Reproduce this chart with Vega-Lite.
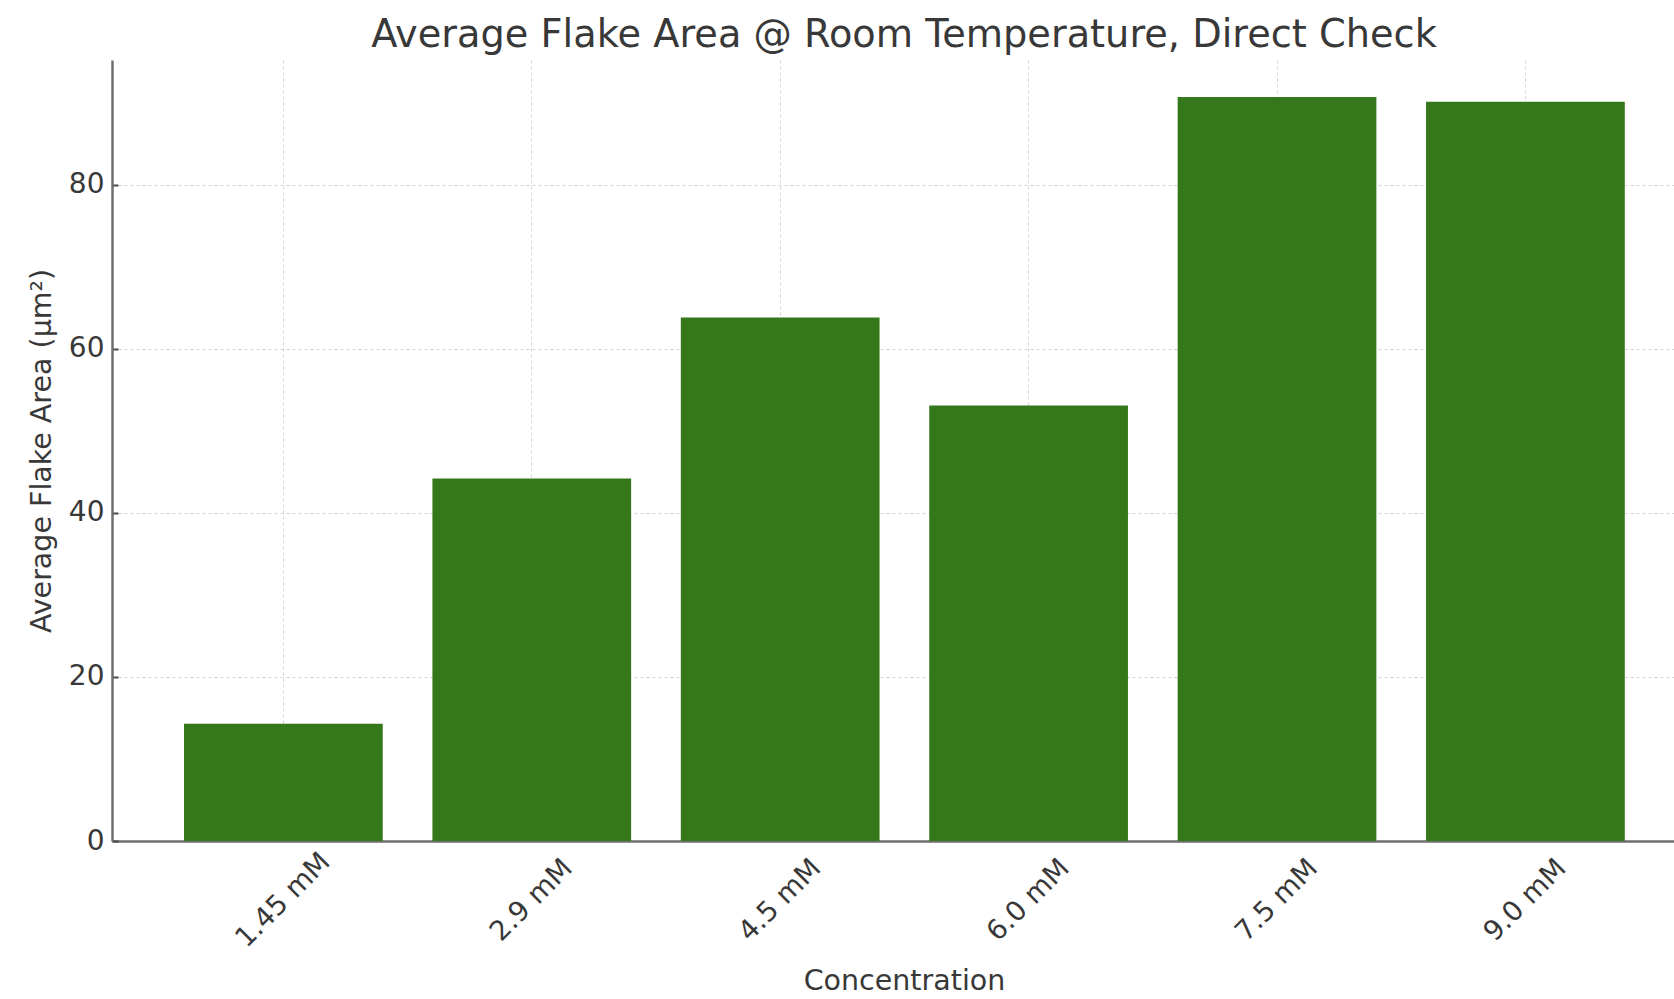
{
  "$schema": "https://vega.github.io/schema/vega-lite/v6.json",
  "autosize": {"type": "none"},
  "padding": {"left": 112, "top": 60, "right": 0, "bottom": 158},
  "width": 1562,
  "height": 781,
  "background": "white",
  "title": {
    "text": "Average Flake Area @ Room Temperature, Direct Check",
    "font": "DejaVu Sans",
    "fontSize": 38.3,
    "fontWeight": "normal",
    "color": "#383838",
    "anchor": "middle",
    "baseline": "alphabetic",
    "offset": 12,
    "dx": 11,
    "dy": 37
  },
  "config": {
    "view": {"stroke": null},
    "axis": {
      "labelFont": "DejaVu Sans",
      "titleFont": "DejaVu Sans",
      "labelColor": "#383838",
      "titleColor": "#383838",
      "titleFontWeight": "normal",
      "domainColor": "#6e6e6e",
      "domainWidth": 2.5,
      "tickColor": "#4a4a4a",
      "tickWidth": 2,
      "gridColor": "#d4d4d4",
      "gridDash": [3, 3],
      "gridWidth": 1,
      "zindex": 1
    }
  },
  "data": {
    "values": [
      {"Concentration": "1.45 mM", "Area": 14.3},
      {"Concentration": "2.9 mM", "Area": 44.2},
      {"Concentration": "4.5 mM", "Area": 63.8},
      {"Concentration": "6.0 mM", "Area": 53.1},
      {"Concentration": "7.5 mM", "Area": 90.7},
      {"Concentration": "9.0 mM", "Area": 90.1}
    ]
  },
  "mark": {"type": "bar", "color": "#35781b"},
  "encoding": {
    "x": {
      "field": "Concentration",
      "type": "nominal",
      "sort": null,
      "scale": {"paddingInner": 0.2, "paddingOuter": 0.244, "align": 0.594},
      "axis": {
        "title": "Concentration",
        "titleFontSize": 28.5,
        "titleX": 792,
        "titleY": 139,
        "titleAlign": "center",
        "titleBaseline": "middle",
        "labelFontSize": 27.5,
        "labelAngle": -45,
        "labelAlign": "center",
        "labelBaseline": "middle",
        "labelPadding": 65,
        "tickSize": -6,
        "grid": true
      }
    },
    "y": {
      "field": "Area",
      "type": "quantitative",
      "scale": {"domain": [0, 95.2], "nice": false},
      "axis": {
        "title": "Average Flake Area (µm²)",
        "titleFontSize": 28.5,
        "titlePadding": 12,
        "labelFontSize": 28,
        "values": [0, 20, 40, 60, 80],
        "tickSize": -6,
        "labelPadding": 14,
        "grid": true
      }
    }
  }
}
